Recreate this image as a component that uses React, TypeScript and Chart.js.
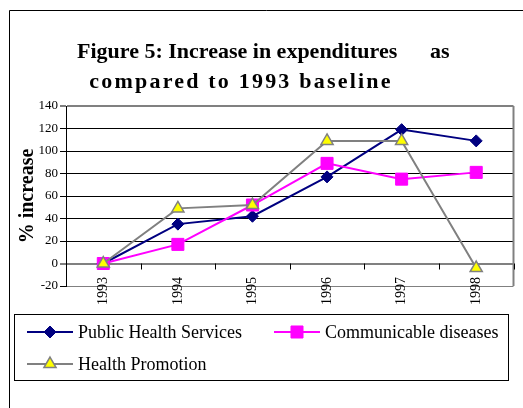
import React, { useEffect, useRef } from 'react';
import { Chart, registerables } from 'chart.js';
import * as helpers from 'chart.js/helpers';

Chart.register(...registerables);

const years = ['1993', '1994', '1995', '1996', '1997', '1998'];
const publicHealth = [0, 35, 42, 77, 119, 109];
const communicable = [0, 17, 52, 89, 75, 81];
const healthPromotion = [0, 49, 52, 109, 109, -4];
const seriesNames = ['Public Health Services', 'Communicable diseases', 'Health Promotion'];
const yMin = -20;
const yMax = 140;
const yStep = 20;
const titleLine1 = 'Figure 5: Increase in expenditures';
const titleLine1b = 'as';
const titleLine2 = 'compared to 1993 baseline';
const yAxisTitle = '% increase';

const SERIF = '"Liberation Serif", "Times New Roman", serif';

const framePlugin = {
  id: 'frame',
  beforeDraw(chart: any) {
    const ctx = chart.ctx;
    ctx.save();
    ctx.fillStyle = '#fff';
    ctx.fillRect(0, 0, chart.width, chart.height);
    ctx.strokeStyle = '#000';
    ctx.lineWidth = 1;
    ctx.beginPath();
    ctx.moveTo(9.5, chart.height + 2);
    ctx.lineTo(9.5, 10.5);
    ctx.lineTo(chart.width + 2, 10.5);
    ctx.stroke();
    ctx.restore();
  },
};

const plotExtrasPlugin = {
  id: 'plotExtras',
  beforeDatasetsDraw(chart: any) {
    const ctx = chart.ctx;
    const { left, right, top, bottom, width } = chart.chartArea;
    const y0 = chart.scales.y.getPixelForValue(0);
    const n = chart.data.labels.length;
    ctx.save();
    ctx.strokeStyle = '#808080';
    ctx.lineWidth = 2;
    ctx.beginPath();
    ctx.moveTo(right, top);
    ctx.lineTo(right, bottom);
    ctx.stroke();
    ctx.strokeStyle = '#000';
    ctx.lineWidth = 1;
    ctx.beginPath();
    for (let i = 1; i <= n; i++) {
      const x = Math.round(left + (i * width) / n) + 0.5;
      ctx.moveTo(x, y0);
      ctx.lineTo(x, y0 + 6);
    }
    ctx.stroke();
    const xs = chart.scales.x;
    ctx.fillStyle = '#000';
    ctx.font = '14px ' + SERIF;
    ctx.textAlign = 'right';
    ctx.textBaseline = 'middle';
    chart.data.labels.forEach((lab: string, i: number) => {
      ctx.save();
      ctx.translate(xs.getPixelForTick(i), bottom - 9);
      ctx.rotate(-Math.PI / 2);
      ctx.fillText(lab, 0, 0);
      ctx.restore();
    });
    ctx.restore();
  },
};

const titlePlugin = {
  id: 'figTitle',
  afterDraw(chart: any) {
    const ctx = chart.ctx;
    ctx.save();
    ctx.fillStyle = '#000';
    ctx.font = 'bold 22px ' + SERIF;
    ctx.textBaseline = 'alphabetic';
    ctx.textAlign = 'left';
    ctx.fillText(titleLine1, 77, 58);
    ctx.fillText(titleLine1b, 430, 58);
    ctx.textAlign = 'center';
    (ctx as any).letterSpacing = '2.2px';
    ctx.fillText(titleLine2, 241, 88);
    ctx.restore();
  },
};

const legendPlugin = {
  id: 'boxLegend',
  afterDraw(chart: any) {
    const ctx = chart.ctx;
    ctx.save();
    ctx.strokeStyle = '#000';
    ctx.lineWidth = 1;
    ctx.strokeRect(14.5, 314.5, 494, 66);
    const slots = [
      { x: 27, y: 332 },
      { x: 274, y: 332 },
      { x: 27, y: 364 },
    ];
    chart.data.datasets.forEach((ds: any, i: number) => {
      const { x, y } = slots[i];
      ctx.strokeStyle = ds.borderColor;
      ctx.lineWidth = ds.borderWidth;
      ctx.beginPath();
      ctx.moveTo(x, y);
      ctx.lineTo(x + 46, y);
      ctx.stroke();
      ctx.fillStyle = ds.pointBackgroundColor;
      ctx.strokeStyle = ds.pointBorderColor;
      ctx.lineWidth = ds.pointBorderWidth;
      helpers.drawPoint(
        ctx,
        { pointStyle: ds.pointStyle, radius: ds.pointRadius, rotation: 0, borderWidth: ds.pointBorderWidth },
        x + 23,
        y
      );
      ctx.fillStyle = '#000';
      ctx.font = '18px ' + SERIF;
      ctx.textBaseline = 'middle';
      ctx.textAlign = 'left';
      ctx.fillText(ds.label, x + 51, y + 1);
    });
    ctx.restore();
  },
};

export default function App() {
  const ref = useRef<HTMLCanvasElement>(null);

  useEffect(() => {
    if (!ref.current) return;
    const chart = new Chart(ref.current, {
      type: 'line',
      data: {
        labels: years,
        datasets: [
          {
            label: seriesNames[0],
            data: publicHealth,
            borderColor: '#000080',
            backgroundColor: '#000080',
            borderWidth: 2,
            pointStyle: 'rectRot',
            pointRadius: 6,
            pointBackgroundColor: '#000080',
            pointBorderColor: '#000080',
            pointBorderWidth: 1,
            tension: 0,
            order: 2,
          },
          {
            label: seriesNames[1],
            data: communicable,
            borderColor: '#FF00FF',
            backgroundColor: '#FF00FF',
            borderWidth: 2,
            pointStyle: 'rect',
            pointRadius: 8.5,
            pointBackgroundColor: '#FF00FF',
            pointBorderColor: '#FF00FF',
            pointBorderWidth: 1,
            tension: 0,
            order: 1,
          },
          {
            label: seriesNames[2],
            data: healthPromotion,
            borderColor: '#808080',
            backgroundColor: '#FFFF00',
            borderWidth: 2,
            pointStyle: 'triangle',
            pointRadius: 7,
            pointBackgroundColor: '#FFFF00',
            pointBorderColor: '#808080',
            pointBorderWidth: 1.5,
            tension: 0,
            order: 0,
          },
        ],
      },
      options: {
        responsive: false,
        animation: false,
        devicePixelRatio: 1,
        layout: { padding: { top: 106, right: 7, bottom: 0, left: 0 } },
        plugins: {
          legend: { display: false },
          title: { display: false },
          tooltip: { enabled: false },
        },
        scales: {
          x: {
            type: 'category',
            offset: true,
            grid: { display: false, drawTicks: false, tickLength: 0 },
            border: { display: false },
            ticks: { display: false },
            afterFit: (scale: any) => {
              scale.height = 122;
            },
          },
          y: {
            min: yMin,
            max: yMax,
            ticks: {
              stepSize: yStep,
              color: '#000',
              font: { family: SERIF, size: 13 },
              padding: 2,
            },
            grid: {
              color: (c: any) =>
                c.tick && (c.tick.value === 0 || c.tick.value === yMax || c.tick.value === yMin) ? '#808080' : '#000',
              lineWidth: (c: any) =>
                c.tick && (c.tick.value === 0 || c.tick.value === yMax) ? 2 : 1,
              tickLength: 6,
              tickColor: '#000',
              tickWidth: 1,
            },
            border: { display: true, color: '#000', width: 1 },
            title: {
              display: true,
              text: yAxisTitle,
              color: '#000',
              font: { family: SERIF, size: 20, weight: 'bold' },
              padding: { top: 16, bottom: 0 },
            },
            afterFit: (scale: any) => {
              scale.width = 66;
            },
          },
        },
      },
      plugins: [framePlugin, plotExtrasPlugin, titlePlugin, legendPlugin],
    });
    return () => chart.destroy();
  }, []);

  return (
    <div style={{ position: 'absolute', left: 0, top: 0, width: 523, height: 408, overflow: 'hidden' }}>
      <canvas ref={ref} width={523} height={408} style={{ display: 'block', width: 523, height: 408 }} />
    </div>
  );
}
